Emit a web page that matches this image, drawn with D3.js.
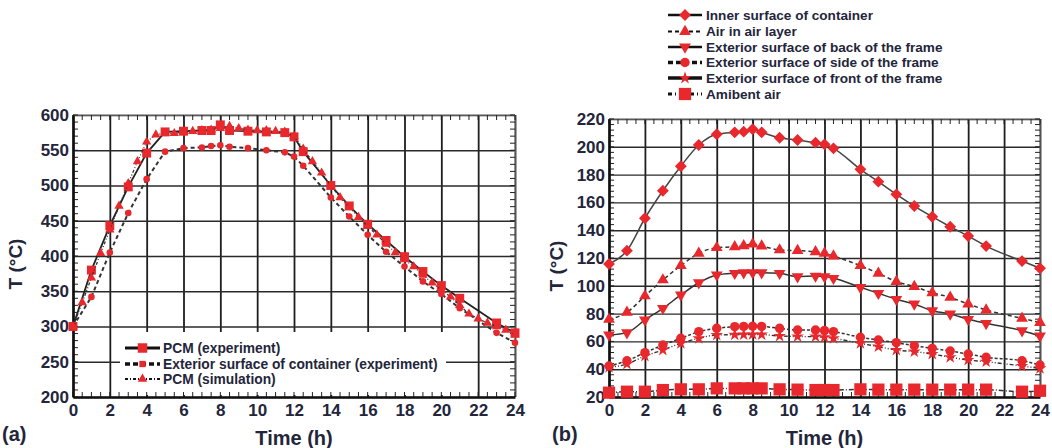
<!DOCTYPE html>
<html><head><meta charset="utf-8">
<script src="https://cdn.jsdelivr.net/npm/d3@7"></script>
<style>
body{margin:0;background:#fff;}
svg text{font-family:"Liberation Sans",Arial,sans-serif;font-weight:bold;fill:#23253b;}
</style></head>
<body><svg id="c" width="1052" height="448"></svg>
<script>
// ---------- Panel (a) data ----------
const expTimes = [0,1,2,3,4,5,6,7,7.5,8,8.5,9.5,10.5,11.5,12,12.5,14,15,16,17,18,19,20,21,23,24];
const pcmExp   = [300,380,443,498,546,576,577,578,578,586,578,577,576,575,569,548,500,471,445,422,399,378,358,340,305,291];
const extSurf  = [300,342,405,461,509,548,553,554,556,557,555,553,550,547,541,528,483,456,430,406,385,364,346,326,291,277];
const simTimes = [0,0.5,1,1.5,2,2.5,3,3.5,4,4.5,5,5.5,6,6.5,7,7.5,8,8.5,9,9.5,10,10.5,11,11.5,12,12.5,13,13.5,14,14.5,15,15.5,16,16.5,17,17.5,18,18.5,19,19.5,20,20.5,21,21.5,22,22.5,23,23.5,24];
const pcmSim   = [300,334,369,404,437,471,503,534,562,572,574,574,576,577,578,579,581,584,581,579,578,578,577,576,570,552,534,518,500,483,469,455,442,430,417,405,395,385,373,362,352,342,330,318,311,305,300,295,288];
const aLegend  = ["PCM (experiment)","Exterior surface of container (experiment)","PCM (simulation)"];
const aYTicks  = [200,250,300,350,400,450,500,550,600];
const xTicks   = [0,2,4,6,8,10,12,14,16,18,20,22,24];

// ---------- Panel (b) data ----------
const bTimes   = [0,1,2,3,4,5,6,7,7.5,8,8.5,9.5,10.5,11.5,12,12.5,14,15,16,17,18,19,20,21,23,24];
const innerSurf= [115.7,125.3,148.6,168.4,186,201.3,209,210.4,210.9,212.6,210.4,206.5,204.9,203,201.8,198.9,183.8,174.9,165.8,157.4,149.7,142.5,135.8,128.6,117.8,112.6];
const airLayer = [75.9,80.9,92.7,104.2,114.5,123.4,127.4,128.1,128.8,130,128.6,125.8,125.3,124.5,123.4,121.4,114.5,109,103,99.4,95,91.7,86.9,82.6,76.6,73.5];
const backFrame= [64.6,66.3,75.4,83.8,93.4,102.2,107.8,109,109.4,109.4,109.4,109,106.6,107,106.6,105.4,98.9,94.6,90.3,86.9,82.1,79.7,75.9,73,67.7,63.9];
const sideFrame= [42.3,46.1,51.9,57.4,62.2,67,69.4,70.6,70.8,70.9,70.8,69.4,68.2,68.2,67.8,67,63,61,59.1,56.9,55,53.1,50.9,48.6,46.1,43];
const frontFrame=[41.4,43.7,49.5,53.8,58.6,62.2,64.6,64.8,64.9,65,64.9,63.9,63.5,63.4,63,62.2,58.6,56.2,53.8,52.6,50.9,48.6,46.6,45.4,42.3,40.6];
const ambient  = [23.1,23.8,23.8,25,25.5,25.5,26.2,26.2,26.2,26.2,26.2,25.5,25.3,25,25,25,25.5,25.3,25.3,25.3,25.3,25.3,25.3,25.3,23.8,24.5];
const bLegend  = ["Inner surface of container","Air in air layer","Exterior surface of back of the frame","Exterior surface of side of the frame","Exterior surface of front of the frame","Amibent air"];
const bYTicks  = [20,40,60,80,100,120,140,160,180,200,220];

const RED = "#e8282c", LINE = "#333";
const svg = d3.select("#c");

function symPath(type, size, rot){ return {d:d3.symbol().type(type).size(size)(), rot:rot||0}; }

function panel(opt){
  const g = svg.append("g");
  const x = d3.scaleLinear().domain([0,24]).range(opt.xr);
  const y = d3.scaleLinear().domain(opt.yd).range(opt.yr);
  const [x0,x1] = opt.xr, [y0,y1] = opt.yr;
  g.append("g").attr("transform",`translate(0,${y0})`)
    .call(d3.axisBottom(x).tickValues(xTicks).tickSize(-(y0-y1)).tickFormat(""))
    .call(a=>a.select(".domain").remove())
    .selectAll("line").attr("stroke","#1e1e1e").attr("stroke-width",1.8);
  g.append("g").attr("transform",`translate(${x0},0)`)
    .call(d3.axisLeft(y).tickValues(opt.yTicks).tickSize(-(x1-x0)).tickFormat(""))
    .call(a=>a.select(".domain").remove())
    .selectAll("line").attr("stroke","#2a2a2a").attr("stroke-width",1.4);
  if(opt.whiteBox){
    const wb = opt.whiteBox;
    g.append("rect").attr("x",wb[0]).attr("y",wb[1]).attr("width",wb[2]).attr("height",wb[3]).attr("fill","#fff");
  }
  g.append("path").attr("d",`M${x0},${y1}H${x1}V${y0}`).attr("fill","none").attr("stroke","#888").attr("stroke-width",1);
  const yMin = d3.range(opt.yd[0], opt.yd[1]+0.001, opt.yMinor);
  const xMin = d3.range(0, 24.001, 0.5);
  const mt = g.append("g").attr("stroke","#222").attr("stroke-width",1);
  yMin.forEach(v=>{
    mt.append("line").attr("x1",x0).attr("x2",x0+5).attr("y1",y(v)).attr("y2",y(v));
    mt.append("line").attr("x1",x1).attr("x2",x1-5).attr("y1",y(v)).attr("y2",y(v));
  });
  xMin.forEach(v=>{
    mt.append("line").attr("x1",x(v)).attr("x2",x(v)).attr("y1",y0).attr("y2",y0-5);
    mt.append("line").attr("x1",x(v)).attr("x2",x(v)).attr("y1",y1).attr("y2",y1+5);
  });
  const xa = g.append("g").attr("transform",`translate(0,${y0})`)
    .call(d3.axisBottom(x).tickValues(xTicks).tickSize(0).tickPadding(7));
  xa.select(".domain").attr("stroke","#111").attr("stroke-width",2.6);
  xa.selectAll("text").attr("font-size",17).attr("dy","0.71em");
  const ya = g.append("g").attr("transform",`translate(${x0},0)`)
    .call(d3.axisLeft(y).tickValues(opt.yTicks).tickSize(0).tickPadding(4));
  ya.select(".domain").attr("stroke","#111").attr("stroke-width",2.6);
  ya.selectAll("text").attr("font-size",17);
  g.append("text").attr("x",(x0+x1)/2).attr("y",445).attr("text-anchor","middle").attr("font-size",20).text("Time (h)");
  g.append("text").attr("transform",`translate(${opt.tx},${(y0+y1)/2+8}) rotate(-90)`).attr("text-anchor","middle").attr("font-size",19).text("T (°C)");
  g.append("text").attr("x",opt.lx).attr("y",441).attr("font-size",20).text(opt.label);
  return {g,x,y};
}

function series(P, times, vals, s){
  const line = d3.line().x((d,i)=>P.x(times[i])).y(d=>P.y(d)).curve(s.curve||d3.curveLinear);
  P.g.append("path").datum(vals).attr("d",line).attr("fill","none")
    .attr("stroke",s.stroke||LINE).attr("stroke-width",s.w||1.6).attr("stroke-dasharray",s.dash||null);
  P.g.append("g").selectAll("path").data(vals).join("path")
    .attr("d",s.sym.d).attr("fill",RED)
    .attr("transform",(d,i)=>`translate(${P.x(times[i])},${P.y(d)}) rotate(${s.sym.rot})`);
}

function legendRow(g, x0, x1, y, tx, s, label, fs){
  g.append("line").attr("x1",x0).attr("x2",x1).attr("y1",y).attr("y2",y)
    .attr("stroke",s.lstroke||"#111").attr("stroke-width",s.lw||3).attr("stroke-dasharray",s.ldash||null);
  g.append("path").attr("d",s.lsym?s.lsym.d:s.sym.d).attr("fill",RED)
    .attr("transform",`translate(${(x0+x1)/2},${y}) rotate(${s.sym.rot})`);
  g.append("text").attr("x",tx).attr("y",y).attr("dy","0.35em").attr("font-size",fs).text(label);
}

// ---------- Panel (a) ----------
const A = panel({xr:[73,515], yr:[397,115], yd:[200,600], yTicks:aYTicks, yMinor:10, tx:22, lx:2, label:"(a)", whiteBox:[120,332,326,63]});
const sA = [
  {sym:symPath(d3.symbolSquare,80), w:1.8, stroke:"#222", lw:3, ldash:null, lsym:symPath(d3.symbolSquare,90)},
  {sym:symPath(d3.symbolCircle,34), w:2, stroke:"#333", dash:"4,3", lw:3.5, ldash:"5,3", lsym:symPath(d3.symbolSquare,40)},
  {sym:symPath(d3.symbolTriangle,38), w:1.3, stroke:"#333", dash:"3,2,1,2,1,2", lw:2, ldash:"3,2,1,2"}
];
series(A, expTimes, pcmExp, sA[0]);
series(A, expTimes, extSurf, sA[1]);
series(A, simTimes, pcmSim, sA[2]);
[348,364,379].forEach((yy,i)=>legendRow(A.g,125,160,yy,163,sA[i],aLegend[i],13.8));

// ---------- Panel (b) ----------
const B = panel({xr:[609,1040], yr:[397,119], yd:[20,220], yTicks:bYTicks, yMinor:4, tx:563, lx:552, label:"(b)"});
const sB = [
  {sym:symPath(d3.symbolSquare,70,45), w:1.5, stroke:"#444", curve:d3.curveMonotoneX, lw:2.5},
  {sym:symPath(d3.symbolTriangle,60), w:1.5, stroke:"#333", dash:"4,3", curve:d3.curveMonotoneX, lw:2, ldash:"4,3"},
  {sym:{d:d3.symbol().type(d3.symbolTriangle).size(60)(),rot:180}, w:1.5, stroke:"#333", curve:d3.curveMonotoneX, lw:2.5},
  {sym:symPath(d3.symbolCircle,70), w:1.5, stroke:"#333", dash:"3,2", curve:d3.curveMonotoneX, lw:3.5, ldash:"5,3"},
  {sym:symPath(d3.symbolStar,50), w:1.4, stroke:"#333", dash:"4,2,1,2,1,2", curve:d3.curveMonotoneX, lw:3.5},
  {sym:symPath(d3.symbolSquare,150), w:1.5, stroke:"#333", dash:"5,2,1,2", curve:d3.curveMonotoneX, lw:3, ldash:"4,3,1,3"}
];
const bData = [innerSurf, airLayer, backFrame, sideFrame, frontFrame, ambient];
bData.forEach((v,i)=>series(B, bTimes, v, sB[i]));
[15,31.5,47,62.5,78,94].forEach((yy,i)=>legendRow(svg,668,702,yy,706,sB[i],bLegend[i],13.6));
</script></body></html>
